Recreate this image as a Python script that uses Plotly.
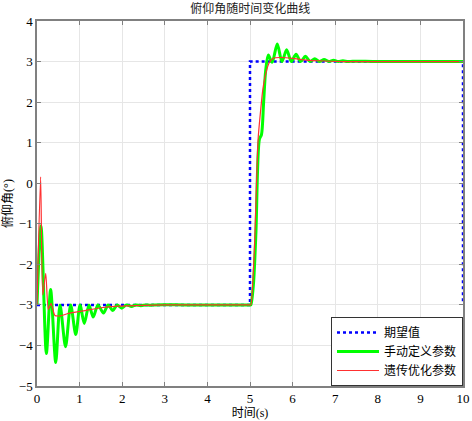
import plotly.graph_objects as go

# 期望值
t_ref = [0, 5, 5, 10, 10]
y_ref = [-3, -3, 3, 3, -3]

# 手动定义参数 (读图估计的峰谷点)
t_man = [0, 0.094, 0.22, 0.32, 0.44, 0.54, 0.67, 0.79, 0.91, 1.01, 1.11, 1.22, 1.32, 1.43,
         1.56, 1.67, 1.78, 1.88, 1.99, 2.10, 2.22, 2.32, 2.44, 2.55, 2.66, 2.77, 3.5, 5.0,
         5.02, 5.08, 5.14, 5.22, 5.27, 5.32, 5.37, 5.43, 5.52, 5.64, 5.75, 5.86, 5.97, 6.08,
         6.19, 6.30, 6.41, 6.52, 6.63, 6.74, 6.85, 6.96, 7.07, 7.18, 7.3, 7.41, 8.0, 10]
y_man = [-3, -1.05, -4.2, -2.62, -4.42, -3.0, -4.03, -3.0, -3.73, -3.0, -3.46, -3.0, -3.3, -3.0,
         -3.2, -3.0, -3.14, -3.0, -3.08, -3.0, -3.04, -3.0, -3.02, -3.0, -3.01, -3.0, -3.0, -3.0,
         -3.0, -2.5, -1.2, 1.08, 1.2, 2.0, 2.8, 3.16, 2.98, 3.43, 3.0, 3.29, 3.0, 3.18,
         3.0, 3.13, 3.0, 3.07, 3.0, 3.05, 3.0, 3.03, 3.0, 3.02, 3.0, 3.01, 3.0, 3.0]

# 遗传优化参数
t_ga = [0, 0.085, 0.135, 0.205, 0.265, 0.33, 0.42, 0.55, 0.74, 1.13, 1.5, 1.9, 2.5, 3.0, 5.0,
        5.02, 5.1, 5.19, 5.25, 5.3, 5.37, 5.45, 5.55, 5.7, 6.0, 6.2, 6.6, 7.2, 10]
y_ga = [-3, 0.16, -2.75, -2.22, -3.11, -2.96, -3.26, -3.27, -3.21, -3.14, -3.07, -3.03, -3.01, -3.0, -3.0,
        -3.0, -1.7, 1.08, 1.8, 2.3, 2.7, 2.97, 3.08, 3.1, 3.08, 3.05, 3.02, 3.0, 3.0]

font_fam = "'Liberation Serif', 'Noto Sans CJK SC', serif"

fig = go.Figure()
fig.add_trace(go.Scatter(x=t_ref, y=y_ref, mode='lines', name='期望值',
                         line=dict(color='#0000ff', width=2.5, dash='dot')))
fig.add_trace(go.Scatter(x=t_man, y=y_man, mode='lines', name='手动定义参数',
                         line=dict(color='#00ff00', width=3, shape='spline', smoothing=0.8)))
fig.add_trace(go.Scatter(x=t_ga, y=y_ga, mode='lines', name='遗传优化参数',
                         line=dict(color='#ff3030', width=1.2, shape='spline', smoothing=0.6)))

axis_style = dict(showgrid=True, gridcolor='#e6e6e6', gridwidth=1, showline=True, linecolor='#808080',
                  linewidth=1.5, mirror='ticks', ticks='inside', ticklen=4, tickcolor='#808080',
                  zeroline=False, automargin=False, tickfont=dict(size=13, color='black', family=font_fam))

fig.update_layout(
    width=472, height=421,
    margin=dict(l=37, r=9, t=21, b=35),
    paper_bgcolor='white', plot_bgcolor='white',
    font=dict(family=font_fam, color='black'),
    title=dict(text='俯仰角随时间变化曲线', x=0.53, xanchor='center', y=0.99, yanchor='top',
               font=dict(size=12, color='#222222')),
    xaxis=dict(range=[0, 10], dtick=1, title=dict(text='时间(s)', font=dict(size=12), standoff=2), **axis_style),
    yaxis=dict(range=[-5, 4], dtick=1, title=dict(text='俯仰角(°)', font=dict(size=12), standoff=6), **axis_style),
    legend=dict(x=1, y=0, xanchor='right', yanchor='bottom', bgcolor='white', bordercolor='#333333',
                borderwidth=1, font=dict(size=12), tracegroupgap=0, itemwidth=42),
    showlegend=True,
)

# 去掉页面默认边距
fig.write_html("out.html", config={'displayModeBar': False},
               post_script="document.body.style.margin='0';")
